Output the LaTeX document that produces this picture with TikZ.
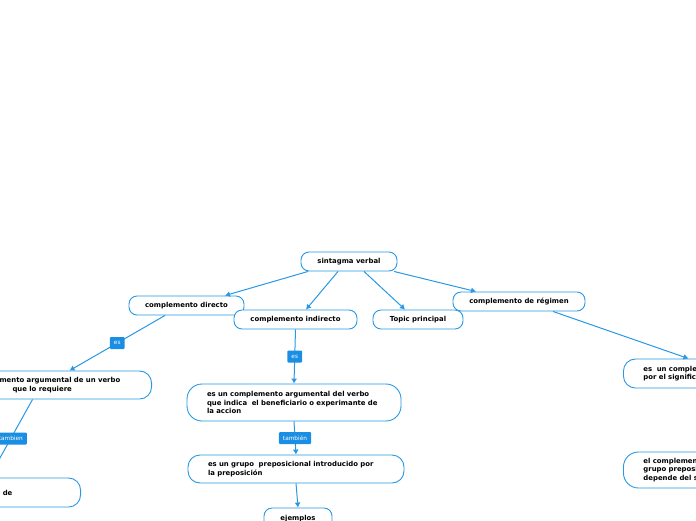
\documentclass[tikz,border=0pt]{standalone}
\usepackage{fontspec}
\setmainfont{DejaVu Sans}
\usetikzlibrary{positioning}
\usetikzlibrary{calc}
\usetikzlibrary{arrows.meta}

\definecolor{mapblue}{RGB}{40,152,228}
\definecolor{tagblue}{RGB}{26,142,226}

\tikzset{
    topic/.style={draw=mapblue, line width=0.9pt, fill=white, rounded corners=8pt, minimum height=19pt, inner xsep=6pt, font=\fontsize{6.9}{8.5}\selectfont\bfseries},
    note/.style={topic, align=left, inner xsep=20pt, rounded corners=12pt},
    link/.style={draw=mapblue, line width=1pt, -{Latex[length=5pt, width=6pt]}},
    tag/.style={fill=tagblue, text=white, rounded corners=1pt, inner xsep=4pt, inner ysep=2pt, minimum height=12pt, font=\fontsize{5.8}{7}\selectfont}
}

\begin{document}
\begin{tikzpicture} [x=1pt, y=-1pt]
    \useasboundingbox (0, 0) rectangle (696, 520);
    \clip (0, 0) rectangle (696, 520);

    % Mind map of the verb phrase and its complements
    \node (SV) [topic, minimum width=96pt] at (349, 261.5) {sintagma verbal};
    \node (CD) [topic, minimum width=115pt] at (186.5, 305.5) {complemento directo};
    \node (CI) [topic, minimum width=123pt] at (295.5, 319.5) {complemento indirecto};
    \node (TP) [topic, minimum width=90pt] at (418, 319.5) {Topic principal};
    \node (CR) [topic, minimum width=132pt] at (519, 301.5) {complemento de régimen};

    \node (CDdef) [note, text width=160pt, minimum height=28pt, anchor=east] at (152, 385) {complemento argumental de un verbo\\\hspace*{41pt}que lo requiere};
    \node (CDalso) [note, text width=65pt, minimum height=29pt, anchor=east] at (81, 492.5) {n de};

    \node (CIdef) [note, text width=174pt, minimum height=37pt, rounded corners=15pt] at (294, 402.5) {es un complemento argumental del verbo\\que indica\ \ el beneficiario o experimante de\\la accion};
    \node (CIprep) [note, text width=176pt, minimum height=28pt] at (296, 469) {es un grupo\ \ preposicional introducido por\\la preposición};
    \node (CIej) [topic, minimum width=68pt, minimum height=21pt] at (298, 518.5) {ejemplos};

    \node (CRdef) [note, text width=90pt, minimum height=29pt, anchor=west] at (623, 373.5) {es\ \ un complemento\\por el significado};
    \node (CRsub) [note, text width=120pt, minimum height=36pt, rounded corners=15pt, anchor=west] at (623, 470) {el complemento\\grupo preposicional\\depende del significado};

    \draw[link] ([xshift=-41pt]SV.south) -- ([xshift=38.5pt]CD.north);
    \draw[link] ([xshift=-11pt]SV.south) -- ([xshift=10.5pt]CI.north);
    \draw[link] ([xshift=15pt]SV.south) -- ([xshift=-13pt]TP.north);
    \draw[link] ([xshift=45pt]SV.south) -- ([xshift=-43pt]CR.north);

    \draw[link] ([xshift=-21.5pt]CD.south) -- node[tag] {es} ([xshift=18pt]CDdef.north);
    \draw[link] ([xshift=-19pt]CDdef.south) -- node[tag] {tambien} ([xshift=-39pt]CDalso.north);

    \draw[link] (CI.south) -- node[tag] {es} (CIdef.north);
    \draw[link] (CIdef.south) -- node[tag] {también} (CIprep.north);
    \draw[link] (CIprep.south) -- (CIej.north);

    \draw[link] ([xshift=34pt]CR.south) -- (CRdef.north);

\end{tikzpicture}
\end{document}
